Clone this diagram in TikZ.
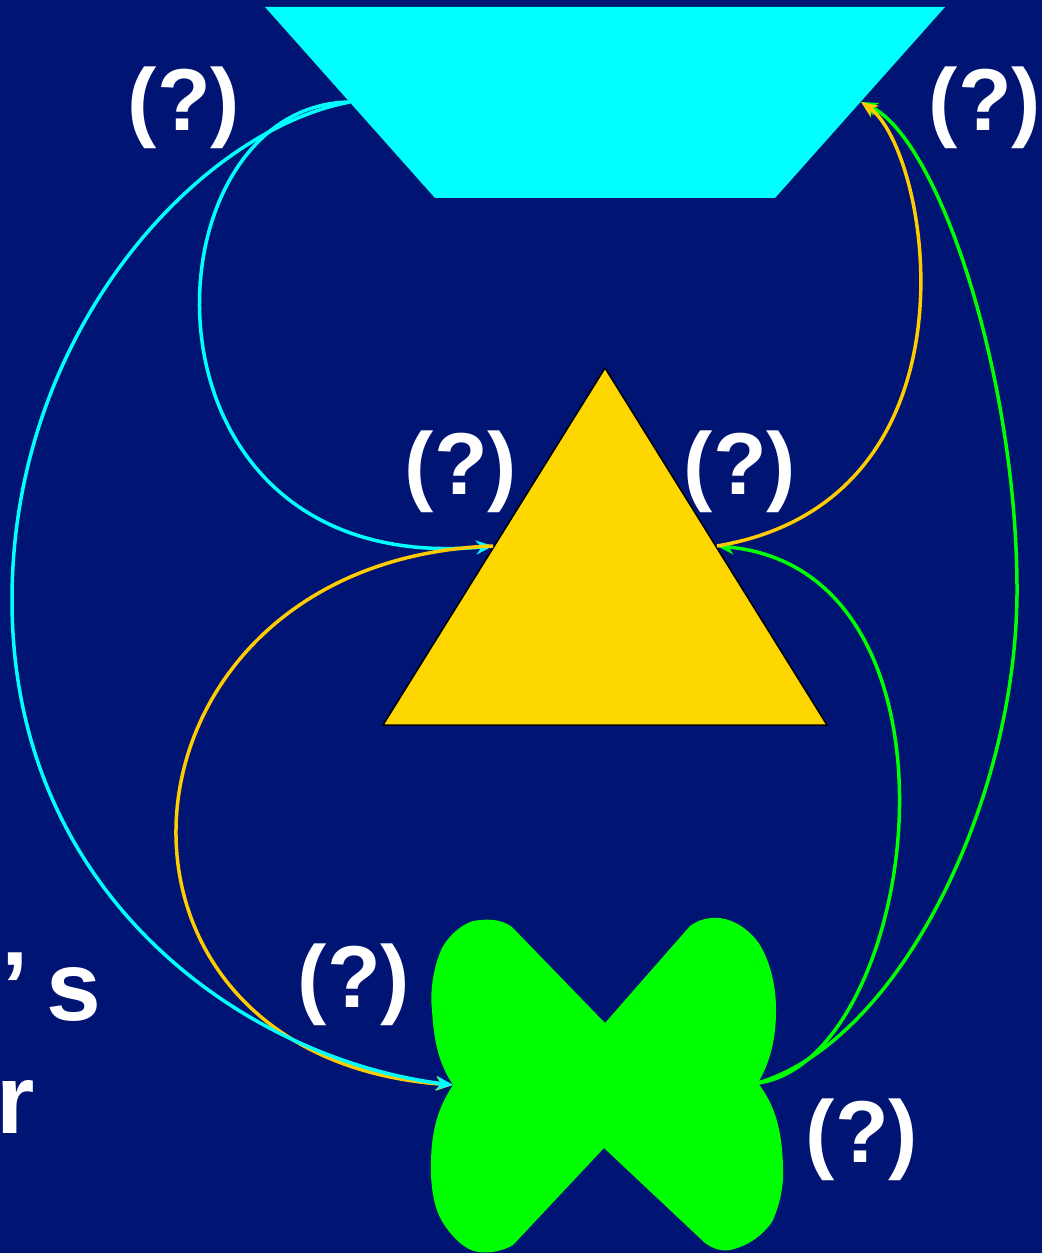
\documentclass[tikz,border=0pt]{standalone}
\usepackage{fontspec}
\setmainfont{Liberation Sans}
\usetikzlibrary{arrows.meta, positioning}
\definecolor{navybg}{RGB}{0, 20, 116}
\definecolor{funnelcyan}{RGB}{0, 255, 255}
\definecolor{trigold}{RGB}{255, 215, 0}
\definecolor{linegold}{RGB}{255, 204, 0}
\definecolor{crossgreen}{RGB}{0, 255, 0}

\begin{document}
\begin{tikzpicture}[x=0.1mm, y=-0.1mm,
  qlabel/.style={text=white, font=\fontsize{25}{30}\selectfont\bfseries, inner sep=0pt},
  sidetext/.style={text=white, font=\fontsize{28}{32}\selectfont\bfseries, inner sep=0pt},
  flow/.style={line width=0.35mm, -{Stealth[length=1.7mm, width=1.4mm]}}
]
  \fill[navybg] (0,0) rectangle (1042,1253);
  \useasboundingbox (0,0) rectangle (1042,1253);

  \fill[funnelcyan] (265,7) -- (945,7) -- (775,198) -- (435,198) -- cycle;
  \filldraw[fill=trigold, draw=black, line width=0.15mm] (605,368) -- (827,725) -- (383,725) -- cycle;
  \fill[crossgreen] (605,1023) -- (512,927)
    .. controls (500,918) and (485,919) .. (473,921)
    .. controls (460,925) and (448,937) .. (442,948)
    .. controls (432,970) and (430,995) .. (432,1010)
    .. controls (434,1045) and (440,1065) .. (453,1085)
    .. controls (440,1105) and (432,1125) .. (431,1160)
    .. controls (430,1190) and (435,1210) .. (443,1223)
    .. controls (453,1238) and (465,1250) .. (478,1252)
    .. controls (490,1254) and (505,1250) .. (513,1245)
    -- (604,1148) -- (705,1243)
    .. controls (715,1250) and (722,1251) .. (730,1250)
    .. controls (748,1246) and (762,1236) .. (772,1222)
    .. controls (780,1205) and (784,1185) .. (783,1167)
    .. controls (782,1130) and (775,1105) .. (758,1083)
    .. controls (770,1062) and (776,1040) .. (776,1010)
    .. controls (776,985) and (770,962) .. (760,945)
    .. controls (750,930) and (735,920) .. (720,918)
    .. controls (708,917) and (698,920) .. (690,926) -- cycle;

  \coordinate (funnelL) at (350,102);
  \coordinate (funnelR) at (861,102);
  \coordinate (triL) at (493,546);
  \coordinate (triR) at (717,546);
  \coordinate (crossL) at (453,1085);
  \coordinate (crossR) at (758,1083);
  \coordinate (farL) at (12,600);
  \coordinate (farR) at (1017,590);

  \draw[flow, crossgreen] (crossR) .. controls (900,1040) and (1017,800) .. (farR)
    .. controls (1017,380) and (940,140) .. (funnelR);
  \draw[flow, crossgreen] (crossR) .. controls (920,1060) and (983,570) .. (triR);
  \draw[flow, linegold] (triR) .. controls (990,500) and (930,150) .. (funnelR);
  \draw[flow, funnelcyan] (funnelL) .. controls (140,105) and (120,580) .. (triL);
  \draw[flow, linegold] (triL) .. controls (100,560) and (60,1056) .. (crossL);
  \draw[flow, funnelcyan] (funnelL) .. controls (200,130) and (12,330) .. (farL)
    .. controls (12,900) and (250,1060) .. (crossL);

  \node[qlabel] (qFunnelL) at (184,108) {(?)};
  \node[qlabel] (qFunnelR) at (985,108) {(?)};
  \node[qlabel] (qTriL) at (461,472) {(?)};
  \node[qlabel] (qTriR) at (740,472) {(?)};
  \node[qlabel] (qCrossL) at (354,985) {(?)};
  \node[qlabel] (qCrossR) at (862,1140) {(?)};
  \node[sidetext, anchor=base east] (sideS) at (102,1020) {’\kern0.18em s};
  \node[sidetext, anchor=base west] (sideR) at (-4,1133) {r};
\end{tikzpicture}
\end{document}
